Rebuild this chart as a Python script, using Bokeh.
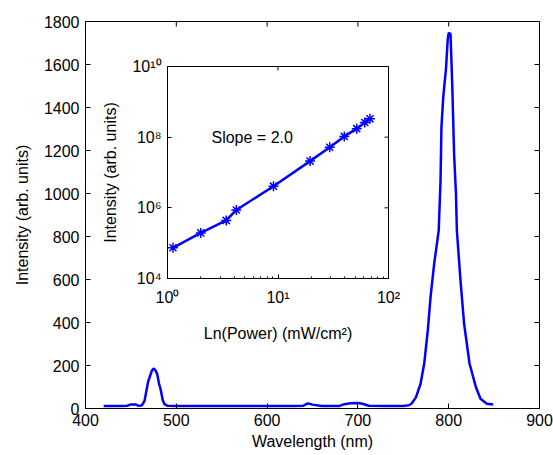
import math
from bokeh.plotting import figure
from bokeh.layouts import column
from bokeh.models import FixedTicker, Label
from bokeh.embed import file_html
from bokeh.resources import INLINE

# ---- main spectrum data ----
wavelength = [420, 430, 440, 446, 450, 455, 458, 462, 465, 467, 469, 471, 473, 475, 477, 479,
              481, 483, 485, 487, 490, 500, 540, 600, 630, 640, 645, 650, 660, 680, 685,
              692, 700, 705, 712, 730, 750, 756, 759, 764, 769, 773, 777, 780, 784, 789,
              791, 792, 794, 797, 799, 800, 802, 803, 804, 806, 808, 809, 813, 817, 823,
              830, 835, 842, 849]
intensity = [12, 12, 12, 13, 19, 19, 13, 14, 35, 80, 125, 150, 175, 186, 178, 160,
             115, 84, 40, 20, 13, 12, 12, 12, 12, 13, 24, 18, 12, 12, 20,
             24, 26, 22, 13, 12, 12, 15, 22, 53, 115, 208, 363, 518, 673, 828,
             1060, 1308, 1448, 1580, 1720, 1747, 1743, 1620, 1490, 1177, 1000, 828, 595, 393, 208,
             99, 45, 22, 19]

x_ticks = [400, 500, 600, 700, 800, 900]
y_ticks = [0, 200, 400, 600, 800, 1000, 1200, 1400, 1600, 1800]

# ---- inset data ----
power = [1.12, 2.0, 3.4, 4.2, 9.1, 19.5, 29.4, 39.8, 51.6, 61.0, 68.0]
inset_intensity = [7.4e4, 1.95e5, 4.4e5, 8.7e5, 4.1e6, 2.1e7, 5.2e7, 1.05e8, 1.74e8, 2.6e8, 3.3e8]

inset_x_ticks = [1, 10, 100]
inset_x_minor = [2, 3, 4, 5, 6, 7, 8, 9, 20, 30, 40, 50, 60, 70, 80, 90]
inset_x_labels = ["10\u2070", "10\u00b9", "10\u00b2"]
inset_y_ticks = [1e4, 1e6, 1e8, 1e10]
inset_y_labels = ["10\u2074", "10\u2076", "10\u2078", "10\u00b9\u2070"]

FONT = "Liberation Sans"
FS = "16px"
BLUE = "#0000ff"


def style_axis(ax, ticker, tick_in=5, minor_in=0):
    ax.ticker = ticker
    ax.major_tick_in = tick_in
    ax.major_tick_out = 0
    ax.minor_tick_in = minor_in
    ax.minor_tick_out = 0
    ax.axis_line_color = "black"
    ax.major_tick_line_color = "black"
    ax.minor_tick_line_color = "black"
    ax.major_label_text_font = FONT
    ax.major_label_text_font_size = FS
    ax.major_label_text_color = "black"
    ax.axis_label_text_font = FONT
    ax.axis_label_text_font_size = FS
    ax.axis_label_text_font_style = "normal"
    ax.axis_label_text_color = "black"


main = figure(width=553, height=455, x_range=(400, 900), y_range=(0, 1800),
              output_backend="svg", toolbar_location=None,
              min_border_left=83, min_border_top=21, min_border_right=14, min_border_bottom=47)
main.grid.visible = False
main.outline_line_color = "black"
main.line(wavelength, intensity, line_color=BLUE, line_width=2.5)

style_axis(main.xaxis[0], FixedTicker(ticks=x_ticks, minor_ticks=[]))
style_axis(main.yaxis[0], FixedTicker(ticks=y_ticks, minor_ticks=[]))
main.xaxis[0].axis_label = "Wavelength (nm)"
main.yaxis[0].axis_label = "Intensity (arb. units)"
main.xaxis[0].major_label_standoff = 5
main.xaxis[0].axis_label_standoff = 4
main.yaxis[0].major_label_standoff = 6
main.yaxis[0].axis_label_standoff = 10

# box ticks on top and right edges (same tick values)
main.ray(x=x_ticks, y=[y_ticks[-1]] * len(x_ticks), length=5, length_units="screen",
         angle=-math.pi / 2, line_color="black", line_width=1)
main.ray(x=[x_ticks[-1]] * len(y_ticks), y=y_ticks, length=5, length_units="screen",
         angle=math.pi, line_color="black", line_width=1)

# ---- inset ----
inset = figure(width=320, height=298, x_axis_type="log", y_axis_type="log",
               x_range=(1, 100), y_range=(1e4, 1e10),
               output_backend="svg", toolbar_location=None,
               min_border_left=85, min_border_top=16, min_border_right=12, min_border_bottom=70,
               background_fill_color="white", border_fill_alpha=0)
inset.grid.visible = False
inset.outline_line_color = "black"
inset.line(power, inset_intensity, line_color=BLUE, line_width=2.5)
inset.scatter(power, inset_intensity, marker="asterisk", size=10, line_color=BLUE, line_width=1.5)

style_axis(inset.xaxis[0], FixedTicker(ticks=inset_x_ticks, minor_ticks=inset_x_minor), tick_in=4, minor_in=2)
style_axis(inset.yaxis[0], FixedTicker(ticks=inset_y_ticks, minor_ticks=[]), tick_in=4)
inset.xaxis[0].major_label_overrides = {v: s for v, s in zip(inset_x_ticks, inset_x_labels)}
inset.yaxis[0].major_label_overrides = {v: s for v, s in zip(inset_y_ticks, inset_y_labels)}
inset.xaxis[0].axis_label = "Ln(Power) (mW/cm\u00b2)"
inset.yaxis[0].axis_label = "Intensity (arb. units)"
inset.xaxis[0].major_label_standoff = 10
inset.xaxis[0].axis_label_standoff = 16
inset.yaxis[0].major_label_standoff = 6
inset.yaxis[0].axis_label_standoff = 10

inset.ray(x=inset_x_ticks, y=[inset_y_ticks[-1]] * len(inset_x_ticks), length=4, length_units="screen",
          angle=-math.pi / 2, line_color="black", line_width=1)
inset.ray(x=[inset_x_ticks[-1]] * len(inset_y_ticks), y=inset_y_ticks, length=4, length_units="screen",
          angle=math.pi, line_color="black", line_width=1)

inset.add_layout(Label(x=2.5, y=1e8, text="Slope = 2.0", text_font=FONT, text_font_size=FS,
                       text_baseline="middle", text_align="left", text_color="black"))

inset.styles = {"position": "absolute", "left": "82px", "top": "50px", "z-index": "2"}

layout = column(main, inset)
layout.styles = {"position": "relative"}

open("out.html", "w").write(file_html(layout, INLINE))
